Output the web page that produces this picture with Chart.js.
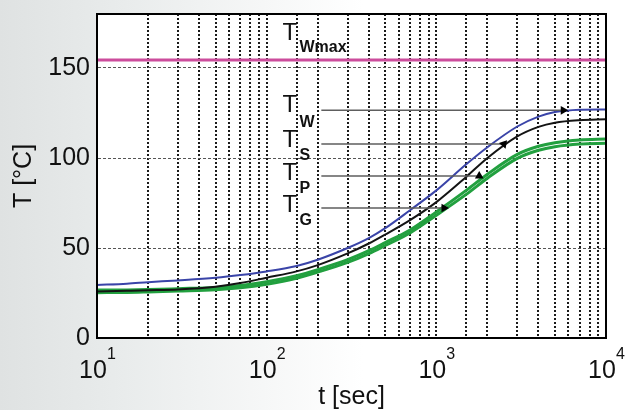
<!DOCTYPE html>
<html><head><meta charset="utf-8">
<script src="https://cdn.jsdelivr.net/npm/chart.js@4"></script>
<style>
html,body{margin:0;padding:0;}
body{width:626px;height:410px;overflow:hidden;background:linear-gradient(to right,#dfe2e2 0%,#e9ecec 20%,#f6f7f7 42%,#ffffff 58%);}
#wrap{position:relative;width:626px;height:410px;}
</style></head><body>
<div id="wrap"><canvas id="c" width="626" height="410"></canvas></div>
<script>
// time axis samples [sec]
const times = [10,15,20,30,50,70,100,150,200,300,400,500,700,1000,1500,2000,3000,4000,5000,7000,10000];
// temperatures [°C]
const T_W = [29.5,30.2,31,32,33.5,35,37,40,43.5,50,55.5,61,71,82,96.5,106,117.5,123,125.5,126.8,127];
const T_S = [25.8,26.2,26.5,27,28.5,30.5,33.5,37,40.5,47,52.5,57.5,65.5,75.5,89.5,100,112,117.3,119.6,121,121.5];
const T_P = [26.6,26.7,26.9,27.4,28.1,29.2,31.2,34.6,38,43.5,48.5,53,60,70,82,91,102,106.5,108.5,110,110.5];
const T_G = [25.2,25.3,25.6,26.1,26.8,27.9,29.9,33.2,36.6,42,46.9,51.4,58.4,68.2,79.8,88.8,99.8,104.3,106.3,107.8,108.2];
const T_Wmax = 154.5;
// leader lines for labels W, S, P, G
const leaderNames = ['W','S','P','G'];
const leaderT = [126.5,107.8,90,72.2];
const leaderStartT = 210;
const leaderEndT = [5600,2500,1790,1110];
const arrowRot = [90,160,120,90];
// ticks
const yTicks = [0,50,100,150];
const xTickValues = [10,100,1000,10000];
const xTickBase = '10';
const xTickExp = ['1','2','3','4'];

const mk = arr => times.map((t,i)=>({x:t,y:arr[i]}));
const FONT = '"Liberation Sans", Arial, sans-serif';

const leaderSets = leaderNames.map((n,i)=>({
  label:'lead'+n,
  data:[{x:leaderStartT,y:leaderT[i]},{x:leaderEndT[i],y:leaderT[i]}],
  borderColor:'#5e5e5e', borderWidth:1.5,
  pointRadius:[0,5], pointStyle:'triangle', pointRotation:[0,arrowRot[i]],
  pointBackgroundColor:'#000', pointBorderColor:'#000', pointBorderWidth:0
}));

const bgPlugin = {
  id:'bg',
  beforeDraw(chart){
    const {ctx,chartArea:a} = chart;
    ctx.save(); ctx.fillStyle='#ffffff'; ctx.fillRect(a.left,a.top,a.right-a.left,a.bottom-a.top); ctx.restore();
  },
  afterDraw(chart){
    const {ctx,chartArea:a,scales} = chart;
    ctx.save();
    ctx.strokeStyle='#000'; ctx.lineWidth=2;
    ctx.strokeRect(a.left,a.top,a.right-a.left,a.bottom-a.top);
    // exponents of x tick labels
    ctx.fillStyle='#111';
    ctx.font='16px '+FONT;
    ctx.textBaseline='alphabetic'; ctx.textAlign='left';
    xTickValues.forEach((v,i)=>{
      const px = scales.x.getPixelForValue(v);
      ctx.fillText(xTickExp[i], px+10, a.bottom+21);
    });
    // curve labels
    const labels = [
      {sub:'Wmax', tY:165.5, sY:159},
      {sub:'W', tY:125.5, sY:117},
      {sub:'S', tY:106, sY:99},
      {sub:'P', tY:87.8, sY:80.6},
      {sub:'G', tY:70, sY:62.8}
    ];
    const xT = scales.x.getPixelForValue(124);
    const xS = scales.x.getPixelForValue(156);
    labels.forEach(l=>{
      ctx.font='24px '+FONT;
      ctx.fillText('T', xT, scales.y.getPixelForValue(l.tY));
      ctx.font='bold 16px '+FONT;
      ctx.fillText(l.sub, xS, scales.y.getPixelForValue(l.sY));
    });
    ctx.restore();
  }
};

new Chart(document.getElementById('c'), {
  type:'line',
  data:{
    datasets:[
      ...leaderSets,
      {label:'T_W', data:mk(T_W), borderColor:'#3a44a8', borderWidth:2, pointRadius:0, cubicInterpolationMode:'monotone'},
      {label:'T_S', data:mk(T_S), borderColor:'#141414', borderWidth:2, pointRadius:0, cubicInterpolationMode:'monotone'},
      {label:'T_P', data:mk(T_P), borderColor:'#22a03f', borderWidth:3, pointRadius:0, cubicInterpolationMode:'monotone'},
      {label:'T_G', data:mk(T_G), borderColor:'#22a03f', borderWidth:3, pointRadius:0, cubicInterpolationMode:'monotone'},
      {label:'T_Wmax', data:[{x:times[0],y:T_Wmax},{x:times[times.length-1],y:T_Wmax}], borderColor:'#cc4c9c', borderWidth:3, pointRadius:0}
    ]
  },
  options:{
    responsive:false, animation:false,
    layout:{padding:{top:14,right:20,left:0,bottom:0}},
    plugins:{legend:{display:false}, tooltip:{enabled:false}},
    scales:{
      x:{
        type:'logarithmic', min:10, max:10000,
        afterFit:s=>{s.height=72;},
        grid:{color:'#1a1a1a', lineWidth:2, drawTicks:false},
        border:{display:true, color:'#000', width:2, dash:[2,2]},
        ticks:{
          autoSkip:false, maxRotation:0, minRotation:0, padding:2, labelOffset:-4,
          color:'#111', font:{family:FONT, size:25, lineHeight:2.5},
          callback:(v)=>{ const i = xTickValues.findIndex(t=>Math.abs(t-v)/t<1e-6); return i>=0 ? xTickBase : ''; }
        },
        title:{display:true, text:'t [sec]', color:'#111', font:{family:FONT, size:25, lineHeight:1}, padding:{top:0,bottom:0}}
      },
      y:{
        type:'linear', min:0, max:180,
        afterBuildTicks:s=>{ s.ticks = yTicks.map(v=>({value:v})); },
        afterFit:s=>{s.width=97;},
        grid:{color:'#555', lineWidth:1, drawTicks:false},
        border:{display:true, color:'#000', width:2, dash:[3,2]},
        ticks:{padding:7, color:'#111', font:{family:FONT, size:25, lineHeight:0.4}},
        title:{display:true, text:'T [°C]', color:'#111', font:{family:FONT, size:25, lineHeight:1}, padding:{top:12,bottom:0}}
      }
    }
  },
  plugins:[bgPlugin]
});
</script>
</body></html>
